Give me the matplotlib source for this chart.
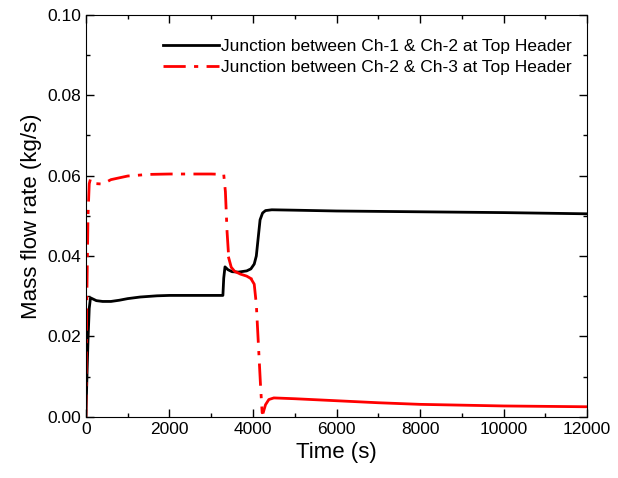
import matplotlib.pyplot as plt
import numpy as np
from matplotlib.ticker import MultipleLocator

plt.rcParams['font.family'] = ['Liberation Sans', 'DejaVu Sans']

# Junction between Ch-1 & Ch-2 (black, solid)
t_12 = [0, 20, 50, 80, 110, 150, 250, 400, 600, 800, 1000, 1300, 1700, 2000,
        2500, 3000, 3280, 3300, 3330, 3400, 3500, 3650, 3850, 3950, 4030,
        4080, 4120, 4170, 4230, 4300, 4450, 5000, 6000, 8000, 10000, 12000]
m_12 = [0.0, 0.008, 0.019, 0.027, 0.0296, 0.0294, 0.0289, 0.0287, 0.0287,
        0.0290, 0.0294, 0.0298, 0.0301, 0.0302, 0.0302, 0.0302, 0.0302,
        0.0345, 0.0373, 0.0366, 0.0361, 0.0360, 0.0363, 0.0368, 0.0380,
        0.0400, 0.0440, 0.0490, 0.0507, 0.0513, 0.0515, 0.0514, 0.0512,
        0.0510, 0.0508, 0.0505]

# Junction between Ch-2 & Ch-3 (red, dash-dot)
t_23 = [0, 20, 50, 80, 110, 150, 250, 400, 600, 1000, 1500, 2000, 2500,
        3000, 3300, 3340, 3380, 3420, 3480, 3560, 3700, 3850, 3950, 4030,
        4080, 4130, 4180, 4220, 4250, 4300, 4380, 4500, 5000, 6000, 7000,
        8000, 10000, 12000]
m_23 = [0.0, 0.028, 0.050, 0.058, 0.0592, 0.0588, 0.0580, 0.0579, 0.0590,
        0.0599, 0.0603, 0.0604, 0.0604, 0.0604, 0.0603, 0.0560, 0.0460,
        0.0395, 0.0372, 0.0362, 0.0355, 0.0350, 0.0344, 0.0330, 0.0280,
        0.0180, 0.0080, 0.0010, 0.0012, 0.0030, 0.0043, 0.0047, 0.0045,
        0.0040, 0.0035, 0.0031, 0.0027, 0.0025]

labels = ['Junction between Ch-1 & Ch-2 at Top Header',
          'Junction between Ch-2 & Ch-3 at Top Header']

fig = plt.figure(figsize=(6.18, 4.78), dpi=100)
ax = fig.add_axes([0.139, 0.128, 0.811, 0.841])

ax.plot(t_12, m_12, color='black', lw=2.0, label=labels[0])

# the original drawing loses the dash pattern on the slowly varying parts
t23 = np.array(t_23)
m23 = np.array(m_23)
dashdot = (0, (8, 3, 1.5, 3))
pieces = [(0, 3420, dashdot), (3420, 3950, '-'), (3950, 4250, dashdot),
          (4250, 12000, '-')]
for i, (a, b, ls) in enumerate(pieces):
    sel = (t23 >= a) & (t23 <= b)
    ax.plot(t23[sel], m23[sel], color='red', lw=2.0, linestyle=ls,
            label=labels[1] if i == 0 else None)

ax.set_xlim(0, 12000)
ax.set_ylim(0, 0.10)
ax.xaxis.set_major_locator(MultipleLocator(2000))
ax.xaxis.set_minor_locator(MultipleLocator(1000))
ax.yaxis.set_major_locator(MultipleLocator(0.02))
ax.yaxis.set_minor_locator(MultipleLocator(0.01))
ax.yaxis.set_major_formatter(plt.FormatStrFormatter('%.2f'))
ax.tick_params(which='both', direction='in', top=True, right=True,
               labelsize=12.5, width=1)
ax.tick_params(which='major', length=6)
ax.tick_params(which='minor', length=3)

ax.set_xlabel('Time (s)', fontsize=16)
ax.set_ylabel('Mass flow rate (kg/s)', fontsize=16)

ax.legend(loc='upper right', bbox_to_anchor=(1.0, 0.98), frameon=False,
          fontsize=12.5, handlelength=3.2, handletextpad=0.1,
          labelspacing=0.35, borderaxespad=0.5)

plt.savefig('out.png', dpi=100)
